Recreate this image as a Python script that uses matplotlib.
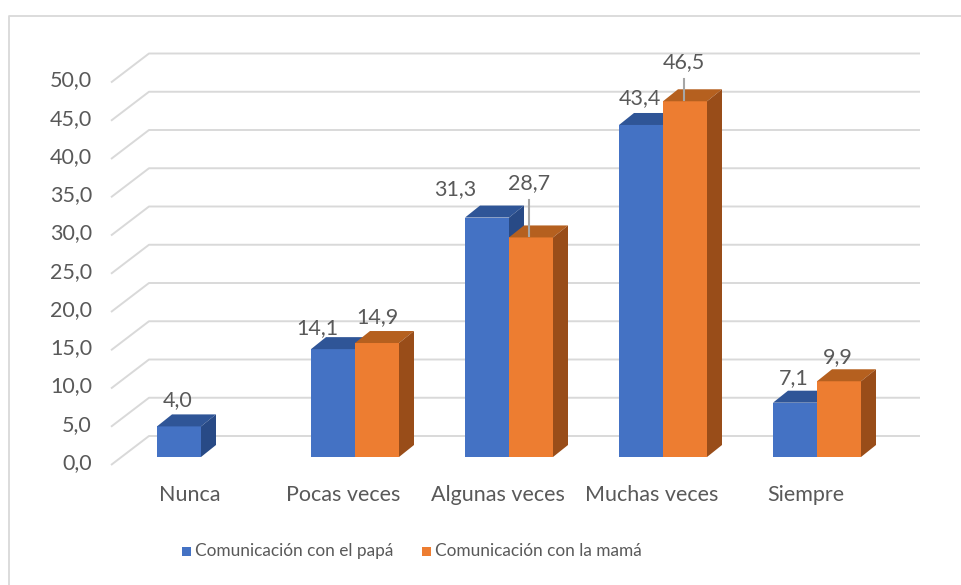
import matplotlib
matplotlib.use("Agg")
import matplotlib.pyplot as plt
from matplotlib.patches import Polygon, Rectangle
from matplotlib.lines import Line2D

# ---- data ----
categories = ["Nunca", "Pocas veces", "Algunas veces", "Muchas veces", "Siempre"]
series_names = ["Comunicación con el papá", "Comunicación con la mamá"]
papa = [4.0, 14.1, 31.3, 43.4, 7.1]
mama = [None, 14.9, 28.7, 46.5, 9.9]
yticks = [0, 5, 10, 15, 20, 25, 30, 35, 40, 45, 50]

# ---- style ----
front_cols = ["#4472C4", "#ED7D31"]
top_cols = ["#2F5597", "#B5601F"]
side_cols = ["#284A86", "#994D19"]
txt_col = "#595959"
grid_col = "#D9D9D9"
FONT = "Lato"
FS = 15.5
LEG_FS = 12.4

# label offsets (pixels) relative to bar front-top centre
lab_off = [
    [(-1, -26), (-16, -21), (-32, -28), (-1, -27), (-1, -25)],
    [(0, 0), (0, -26), (-2, -54), (-1, -39), (-1, -24)],
]

W, H = 961, 585
fig = plt.figure(figsize=(W / 100, H / 100), dpi=100)
fig.patch.set_facecolor("white")
ax = fig.add_axes([0, 0, 1, 1])
ax.axis("off")

PXC = 154.0   # pixels per category
PXV = 7.65    # pixels per value unit
X0, Y0 = 201.0, 457.0
ax.set_xlim((0 - X0) / PXC, (W - X0) / PXC)
ax.set_ylim((Y0 - H) / PXV, Y0 / PXV)


def dx(p):
    return p / PXC


def dy(p):
    return p / PXV


# frame
fig.add_artist(Line2D([9 / W, 9 / W, 1], [0, 1 - 16 / H, 1 - 16 / H],
                      transform=fig.transFigure, color="#D9D9D9", lw=1.3))

# gridlines (3D wall)
xL = dx(121.5 - X0)
xR = dx(920 - X0)
for v in yticks:
    xs = [xL - dx(10.5), xL + dx(27.5), xR]
    ys = [v - dy(8), v + dy(21), v + dy(21)]
    ax.plot(xs, ys, color=grid_col, lw=1.4, solid_capstyle="butt", zorder=1)
    ax.text(dx(92 - X0), v - dy(6), f"{v:.1f}".replace(".", ","),
            ha="right", va="center", fontsize=FS, color=txt_col, family=FONT)

# bars
w = dx(44)
ddx, ddy = dx(15), dy(12)
for i, cat in enumerate(categories):
    for s, vals in enumerate([papa, mama]):
        v = vals[i]
        if v is None:
            continue
        x0 = i - w + s * w
        x1 = x0 + w
        z = 3 + i * 2 + s
        ax.add_patch(Rectangle((x0, 0), w, v, facecolor=front_cols[s],
                               edgecolor="none", zorder=z))
        ax.add_patch(Polygon([(x0, v), (x1, v), (x1 + ddx, v + ddy), (x0 + ddx, v + ddy)],
                             closed=True, facecolor=top_cols[s], edgecolor="none", zorder=z))
        ax.add_patch(Polygon([(x1, 0), (x1, v), (x1 + ddx, v + ddy), (x1 + ddx, ddy)],
                             closed=True, facecolor=side_cols[s], edgecolor="none", zorder=z))
        ox, oy = lab_off[s][i]
        lx = (x0 + x1) / 2 + dx(ox)
        ly = v + dy(-oy)
        ax.text(lx, ly, f"{v:.1f}".replace(".", ","), ha="center", va="center",
                fontsize=FS, color=txt_col, family=FONT, zorder=20)
        if -oy > 35:
            ax.plot([lx, lx], [ly - dy(17), v + dy(1)], color="#A6A6A6", lw=1.5, zorder=20)
    ax.text(i - dx(11.5), dy(Y0 - 495), cat, ha="center", va="center",
            fontsize=FS, color=txt_col, family=FONT)

# legend
leg_y = dy(Y0 - 551)
for s, (name, sx) in enumerate(zip(series_names, [182, 422])):
    ax.add_patch(Rectangle((dx(sx - X0), leg_y - dy(4.5)), dx(9), dy(9),
                           facecolor=front_cols[s], edgecolor="none"))
    ax.text(dx(sx + 13 - X0), leg_y, name, ha="left", va="center",
            fontsize=LEG_FS, color=txt_col, family=FONT)

fig.savefig("out.png", dpi=100, facecolor="white")
